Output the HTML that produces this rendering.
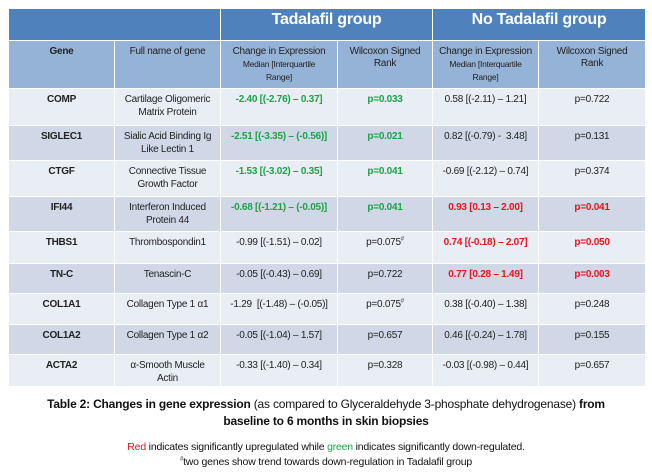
<!DOCTYPE html>
<html><head><meta charset="utf-8"><style>
body{margin:0;width:652px;height:475px;background:#fff;font-family:"Liberation Sans",sans-serif;overflow:hidden;position:relative}
table{position:absolute;left:8px;top:8px;border-collapse:collapse;table-layout:fixed;width:637px}
td{border:1.5px solid #fff;text-align:center;vertical-align:top;font-size:10px;color:#222;padding:5px 4px 0;line-height:12.5px;letter-spacing:-0.25px}
td.n{white-space:nowrap;padding-left:1px;padding-right:1px}
tr.h1 td{background:#4F81BD;color:#fff;font-size:16px;font-weight:bold;height:26px;padding-top:5px;vertical-align:top}
tr.h2 td{background:#95B3D7;height:42px;white-space:nowrap;padding-left:1px;padding-right:1px;line-height:12px}
tr.o td{background:#E9EDF4}
tr.e td{background:#D0D8E8}
td.g{font-weight:bold}
sup{font-size:6px;line-height:0}
.sm{font-size:8.5px}
.gr{color:#1FA24A;font-weight:bold}.rd{color:#E8141B;font-weight:bold}
.cap{position:absolute;left:0;width:652px;text-align:center;font-size:12px;color:#111;letter-spacing:-0.2px}
</style></head><body>
<table>
<colgroup><col style="width:106px"><col style="width:106px"><col style="width:117px"><col style="width:95px"><col style="width:106px"><col style="width:107px"></colgroup>
<tr class="h1"><td colspan="2"></td><td colspan="2">Tadalafil group</td><td colspan="2">No Tadalafil group</td></tr>
<tr class="h2"><td class="g">Gene</td><td>Full name of gene</td><td>Change in Expression<br><span class="sm">Median [Interquartile<br>Range]</span></td><td>Wilcoxon Signed<br>Rank</td><td>Change in Expression<br><span class="sm">Median [Interquartile<br>Range]</span></td><td>Wilcoxon Signed<br>Rank</td></tr>
<tr class="o" style="height:37px"><td class="g">COMP</td><td>Cartilage Oligomeric Matrix Protein</td><td class="gr n">-2.40 [(-2.76) – 0.37]</td><td class="gr">p=0.033</td><td class="n">0.58 [(-2.11) – 1.21]</td><td>p=0.722</td></tr>
<tr class="e" style="height:35px"><td class="g">SIGLEC1</td><td>Sialic Acid Binding Ig Like Lectin 1</td><td class="gr n">-2.51 [(-3.35) – (-0.56)]</td><td class="gr">p=0.021</td><td class="n">0.82 [(-0.79) - &nbsp;3.48]</td><td>p=0.131</td></tr>
<tr class="o" style="height:36px"><td class="g">CTGF</td><td>Connective Tissue Growth Factor</td><td class="gr n">-1.53 [(-3.02) – 0.35]</td><td class="gr">p=0.041</td><td class="n">-0.69 [(-2.12) – 0.74]</td><td>p=0.374</td></tr>
<tr class="e" style="height:35px"><td class="g">IFI44</td><td>Interferon Induced Protein 44</td><td class="gr n">-0.68 [(-1.21) – (-0.05)]</td><td class="gr">p=0.041</td><td class="rd n">0.93 [0.13 – 2.00]</td><td class="rd">p=0.041</td></tr>
<tr class="o" style="height:32px"><td class="g">THBS1</td><td>Thrombospondin1</td><td class="n">-0.99 [(-1.51) – 0.02]</td><td>p=0.075<sup>#</sup></td><td class="rd n">0.74 [(-0.18) – 2.07]</td><td class="rd">p=0.050</td></tr>
<tr class="e" style="height:30px"><td class="g">TN-C</td><td>Tenascin-C</td><td class="n">-0.05 [(-0.43) – 0.69]</td><td>p=0.722</td><td class="rd n">0.77 [0.28 – 1.49]</td><td class="rd">p=0.003</td></tr>
<tr class="o" style="height:31px"><td class="g">COL1A1</td><td>Collagen Type 1 α1</td><td class="n">-1.29 &nbsp;[(-1.48) – (-0.05)]</td><td>p=0.075<sup>#</sup></td><td class="n">0.38 [(-0.40) – 1.38]</td><td>p=0.248</td></tr>
<tr class="e" style="height:30px"><td class="g">COL1A2</td><td>Collagen Type 1 α2</td><td class="n">-0.05 [(-1.04) – 1.57]</td><td>p=0.657</td><td class="n">0.46 [(-0.24) – 1.78]</td><td>p=0.155</td></tr>
<tr class="o" style="height:32px"><td class="g">ACTA2</td><td>α-Smooth Muscle<br>Actin</td><td class="n">-0.33 [(-1.40) – 0.34]</td><td>p=0.328</td><td class="n">-0.03 [(-0.98) – 0.44]</td><td>p=0.657</td></tr>
</table>
<div class="cap" style="top:396px;line-height:17px"><b>Table 2: Changes in gene expression</b> (as compared to Glyceraldehyde 3-phosphate dehydrogenase) <b>from<br>baseline to 6 months in skin biopsies</b></div>
<div class="cap" style="top:440px;font-size:10.5px;line-height:15px"><span style="color:#E8141B">Red</span> indicates significantly upregulated while <span style="color:#1FA24A">green</span> indicates significantly down-regulated.<br><sup>#</sup>two genes show trend towards down-regulation in Tadalafil group</div>
</body></html>
